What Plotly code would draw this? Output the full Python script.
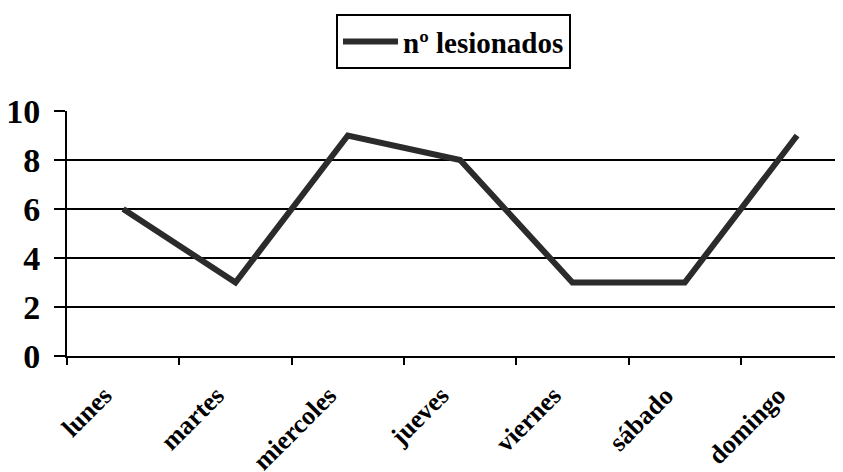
import plotly.graph_objects as go

dias = ["lunes", "martes", "miercoles", "jueves", "viernes", "sábado", "domingo"]
lesionados = [6, 3, 9, 8, 3, 3, 9]
y_ticks = [0, 2, 4, 6, 8, 10]

FONT = "Liberation Serif, Times New Roman, serif"

fig = go.Figure()
fig.add_trace(go.Scatter(
    x=dias, y=lesionados, mode="lines", name="nº lesionados",
    line=dict(color="#2b2b2b", width=6),
))

fig.update_layout(
    width=843, height=472,
    margin=dict(l=59, r=0, t=103, b=124, autoexpand=False),
    paper_bgcolor="white", plot_bgcolor="white",
    font=dict(family=FONT, color="black", weight="bold"),
    showlegend=True,
    legend=dict(
        x=0.493, xanchor="center", y=1.395, yanchor="top",
        bordercolor="black", borderwidth=2, itemwidth=55,
        font=dict(family=FONT, size=29, color="black", weight="bold"),
        bgcolor="white",
    ),
    xaxis=dict(
        type="category", range=[-0.5, 6.48], automargin=False,
        tickson="boundaries", ticks="outside", ticklen=7, tickwidth=2, tickcolor="black",
        showline=True, linecolor="black", linewidth=2,
        showgrid=False, tickangle=-45,
        ticklabelshift=-19, ticklabelstandoff=12,
        tickfont=dict(family=FONT, size=26, color="black", weight="bold"),
    ),
    yaxis=dict(
        range=[0, 10], tickvals=y_ticks, automargin=False,
        ticks="outside", ticklen=11, tickwidth=2, tickcolor="black",
        showline=True, linecolor="black", linewidth=2,
        showgrid=True, gridcolor="black", gridwidth=2,
        zeroline=False, ticklabelstandoff=7,
        tickfont=dict(family=FONT, size=34, color="black", weight="bold"),
    ),
)

fig.write_html("out.html")
